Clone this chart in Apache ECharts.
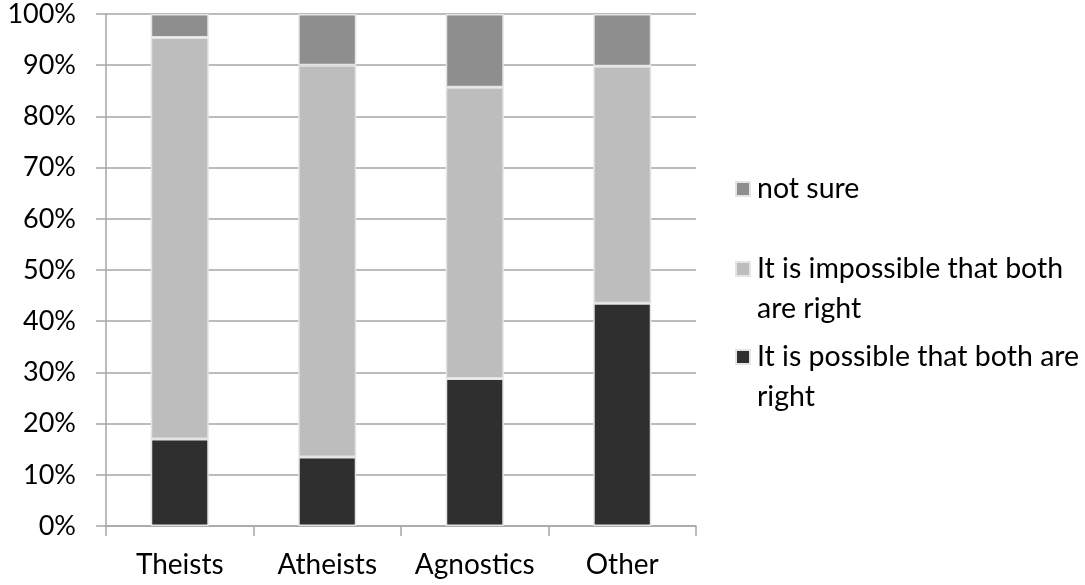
<!DOCTYPE html>
<html><head><meta charset="utf-8">
<script src="https://cdn.jsdelivr.net/npm/echarts@6/dist/echarts.min.js"></script>
<style>html,body{margin:0;padding:0;background:#fff}#c{width:1085px;height:585px}</style>
</head><body><div id="c"></div>
<script>
const categories = ['Theists', 'Atheists', 'Agnostics', 'Other'];
const possible = [17, 13.5, 28.8, 43.5];
const impossible = [78.4, 76.5, 56.9, 46.3];
const notSure = [4.6, 10, 14.3, 10.2];
const yTicks = [0, 10, 20, 30, 40, 50, 60, 70, 80, 90, 100];
const legendNames = ['not sure', 'It is impossible that both are right', 'It is possible that both are right'];
const legendLines = ['not sure', '\nIt is impossible that both\nare right', '\nIt is possible that both are\nright'];

const FONT = 'Lato';
const chart = echarts.init(document.getElementById('c'));
const barStyle = c => ({ color: c, borderColor: '#e4e4e4', borderWidth: 1.5 });
const SQ = 'path://M0,0h10v10h-10z';
const legendTops = [164, 204, 292];
chart.setOption({
  animation: false,
  textStyle: { fontFamily: FONT },
  grid: { left: 106, right: 389, top: 14, bottom: 59, containLabel: false },
  xAxis: {
    type: 'category', data: categories,
    axisLine: { lineStyle: { color: '#a6a6a6', width: 1.5 } },
    axisTick: { show: true, length: 10, lineStyle: { color: '#a6a6a6', width: 1.5 } },
    axisLabel: { color: '#000', fontSize: 28, fontFamily: FONT, margin: 25, interval: 0 }
  },
  yAxis: {
    type: 'value', min: yTicks[0], max: yTicks[yTicks.length - 1], interval: 10,
    axisLine: { show: true, lineStyle: { color: '#a6a6a6', width: 1.5 } },
    axisTick: { show: true, length: 10, lineStyle: { color: '#a6a6a6', width: 1.5 } },
    splitLine: { lineStyle: { color: '#a6a6a6', width: 1.5 } },
    axisLabel: { color: '#000', fontSize: 27, fontFamily: FONT, margin: 30, formatter: '{value}%' }
  },
  legend: legendNames.map((n, i) => ({
    orient: 'vertical', left: 730, top: legendTops[i], itemWidth: 18, itemHeight: 14, itemGap: 0,
    icon: SQ, data: [n],
    formatter: () => legendLines[i],
    textStyle: { fontSize: 28.5, fontFamily: FONT, color: '#000', lineHeight: 40 }
  })),
  series: [
    { name: legendNames[2], type: 'bar', stack: 's', barWidth: 58,
      data: possible, itemStyle: barStyle('#2f2f2f') },
    { name: legendNames[1], type: 'bar', stack: 's', barWidth: 58,
      data: impossible, itemStyle: barStyle('#bdbdbd') },
    { name: legendNames[0], type: 'bar', stack: 's', barWidth: 58,
      data: notSure, itemStyle: barStyle('#8e8e8e') }
  ]
});
</script></body></html>
